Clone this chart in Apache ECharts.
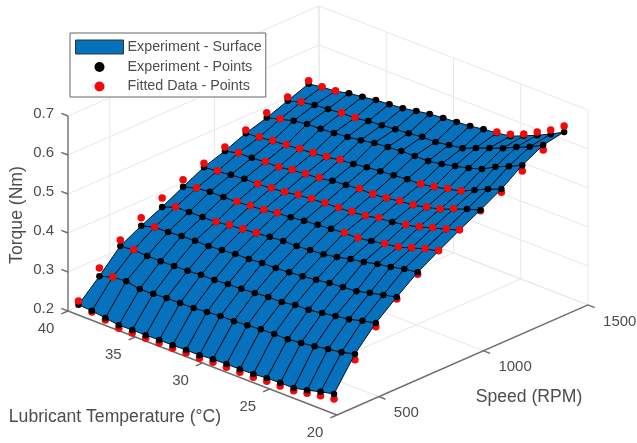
<!DOCTYPE html>
<html>
<head>
<meta charset="utf-8">
<style>
html,body{margin:0;padding:0;background:#fff}
#chart{width:637px;height:443px;filter:blur(0.45px)}
</style>
<script src="https://cdn.jsdelivr.net/npm/echarts@6/dist/echarts.min.js"></script>
</head>
<body>
<div id="chart"></div>
<script>
// Lubricant temperature (deg C), one value per surface column
const temperatures = [40,39,38,37,36,35,34,33,32,31,30,29,28,27,26,25,24,23,22,21];
// Speed (RPM), one value per surface row
const speeds = [350,450,550,650,750,850,950,1050,1150,1250,1350,1450];

const tempTicks = [40,35,30,25,20];
const speedTicks = [500,1000,1500];
const torqueTicks = [0.2,0.3,0.4,0.5,0.6,0.7];

// Experiment torque (Nm) per speed row, columns follow temperatures
const exp350  = [.204,.202,.197,.192,.193,.193,.194,.194,.195,.195,.198,.199,.199,.200,.203,.204,.204,.212,.221,.229];
const exp450  = [.254,.265,.268,.261,.262,.265,.265,.266,.269,.272,.272,.275,.278,.279,.279,.283,.288,.294,.299,.308];
const exp550  = [.308,.311,.309,.309,.310,.311,.314,.314,.317,.318,.321,.324,.324,.330,.331,.336,.342,.347,.356,.364];
const exp650  = [.336,.346,.347,.350,.351,.351,.354,.357,.358,.361,.361,.364,.367,.371,.376,.379,.382,.391,.399,.407];
const exp750  = [.361,.374,.375,.375,.376,.381,.384,.387,.391,.394,.394,.397,.400,.406,.414,.420,.428,.434,.442,.447];
const exp850  = [.389,.399,.403,.403,.404,.407,.410,.415,.418,.422,.425,.428,.431,.431,.437,.443,.448,.459,.470,.478];
const exp950  = [.416,.419,.423,.426,.426,.429,.432,.438,.441,.444,.445,.448,.451,.459,.462,.468,.476,.487,.497,.508];
const exp1050 = [.434,.442,.443,.446,.446,.452,.455,.458,.464,.467,.470,.470,.473,.479,.482,.490,.498,.512,.525,.536];
const exp1150 = [.456,.459,.463,.466,.469,.472,.475,.481,.484,.489,.492,.495,.498,.499,.505,.513,.521,.537,.553,.566];
const exp1250 = [.472,.482,.491,.496,.497,.500,.503,.508,.514,.517,.520,.521,.521,.527,.535,.543,.554,.573,.588,.604];
const exp1350 = [.492,.502,.508,.511,.514,.515,.520,.523,.526,.529,.533,.533,.539,.544,.558,.571,.584,.600,.614,.632];
const exp1450 = [.512,.517,.520,.528,.532,.537,.540,.543,.549,.555,.558,.561,.564,.569,.573,.578,.592,.607,.623,.642];
const experimentRows = [exp350,exp450,exp550,exp650,exp750,exp850,exp950,exp1050,exp1150,exp1250,exp1350,exp1450];

// Fitted torque (Nm) per speed row
const fit350  = [.214,.199,.192,.184,.185,.185,.186,.186,.187,.187,.190,.191,.191,.192,.195,.196,.197,.204,.211,.216];
const fit450  = [.275,.266,.266,.259,.260,.263,.263,.264,.267,.270,.270,.273,.276,.277,.277,.281,.286,.292,.297,.293];
const fit550  = [.323,.312,.307,.307,.308,.309,.312,.312,.315,.316,.319,.322,.322,.328,.329,.334,.340,.345,.354,.354];
const fit650  = [.357,.347,.345,.348,.349,.349,.352,.355,.356,.359,.359,.362,.365,.369,.374,.377,.380,.389,.397,.402];
const fit750  = [.384,.375,.373,.373,.377,.382,.385,.388,.389,.392,.392,.395,.398,.404,.412,.418,.426,.432,.440,.442];
const fit850  = [.407,.400,.401,.401,.405,.408,.411,.416,.416,.420,.423,.426,.432,.432,.435,.444,.449,.460,.471,.479];
const fit950  = [.426,.420,.421,.424,.427,.430,.433,.439,.442,.445,.446,.449,.452,.460,.460,.469,.477,.488,.498,.509];
const fit1050 = [.444,.443,.441,.447,.447,.453,.456,.459,.462,.465,.471,.471,.474,.480,.483,.491,.499,.513,.523,.534];
const fit1150 = [.464,.460,.464,.467,.470,.473,.476,.482,.482,.487,.490,.493,.496,.500,.506,.514,.522,.535,.551,.558];
const fit1250 = [.485,.483,.489,.494,.495,.498,.501,.506,.512,.515,.518,.519,.519,.525,.533,.541,.552,.571,.586,.589];
const fit1350 = [.502,.503,.506,.509,.515,.516,.518,.521,.524,.527,.531,.531,.537,.542,.556,.569,.582,.598,.612,.619];
const fit1450 = [.520,.518,.521,.526,.530,.535,.538,.541,.547,.553,.556,.559,.562,.567,.575,.583,.597,.615,.634,.657];
const fittedRows = [fit350,fit450,fit550,fit650,fit750,fit850,fit950,fit1050,fit1150,fit1250,fit1350,fit1450];

const INK = '#4d4d4d', AXIS = '#6e6e6e', GRID = '#e8e8e8', BLUE = '#0671bd', RED = '#f40808', FONT = '"Liberation Sans", Arial, sans-serif';

// Orthographic view of the (temperature, speed, torque) box onto the plot plane.
const view = {ox:68, oy:311, tx:13.45, ty:5.2, sx:0.2092, sy:-0.0917, zy:-390};
function project(t, s, z){
  const dt = 40 - t, ds = s - 300, dz = z - 0.2;
  return [view.ox + view.tx*dt + view.sx*ds, view.oy + view.ty*dt + view.sy*ds + view.zy*dz];
}

const segs = [];
function seg(kind,a,b){ segs.push({kind, a, b}); }
// back walls and floor
torqueTicks.forEach(z => {
  seg('grid',[40,300,z],[40,1500,z]);
  seg('grid',[40,1500,z],[20,1500,z]);
});
speedTicks.forEach(s => {
  seg('grid',[40,s,.2],[40,s,.7]);
  seg('grid',[40,s,.2],[20,s,.2]);
});
tempTicks.forEach(t => {
  seg('grid',[t,1500,.2],[t,1500,.7]);
  seg('grid',[t,300,.2],[t,1500,.2]);
});
// axes
seg('axis',[40,300,.2],[40,300,.7]);
seg('axis',[40,300,.2],[20,300,.2]);
seg('axis',[20,300,.2],[20,1500,.2]);
torqueTicks.forEach(z => seg('axis',[40,300,z],[40.5,300,z]));
tempTicks.forEach(t => seg('axis',[t,300,.2],[t,268,.2]));
speedTicks.forEach(s => seg('axis',[20,s,.2],[19.5,s,.2]));

const texts = [];
torqueTicks.forEach(z => { const [x,y]=project(40,300,z); texts.push({x:x-14,y:y-2,text:z.toFixed(1),align:'right',size:15}); });
tempTicks.forEach(t => { const [x,y]=project(t,300,.2); texts.push({x:x-22,y:y+18,text:String(t),align:'center',size:15}); });
speedTicks.forEach(s => { const [x,y]=project(20,s,.2); texts.push({x:x+15,y:y+16.5,text:String(s),align:'left',size:15}); });
texts.push({x:115,y:417,text:'Lubricant Temperature (°C)',align:'center',size:17.6});
texts.push({x:529,y:397,text:'Speed (RPM)',align:'center',size:17.6});
texts.push({x:17,y:215,text:'Torque (Nm)',align:'center',rotation:Math.PI/2,size:17.6});

const cells = [];
for (let i=0;i<speeds.length-1;i++) for (let j=0;j<temperatures.length-1;j++) cells.push([i,j]);

const vertex = (i,j) => project(temperatures[j], speeds[i], experimentRows[i][j]);

const expPts = [], fitLow = [], fitHigh = [];
speeds.forEach((s,i) => temperatures.forEach((t,j) => {
  expPts.push(project(t,s,experimentRows[i][j]));
  const p = project(t,s,fittedRows[i][j]);
  (fittedRows[i][j] < experimentRows[i][j] ? fitLow : fitHigh).push(p);
}));

const dot = (name,data,color,size,z) => ({
  type:'scatter', name, data, z, symbol:'circle', symbolSize:size, silent:true,
  itemStyle:{color, opacity:1}, clip:false
});

const chart = echarts.init(document.getElementById('chart'), null, {renderer:'canvas'});
chart.setOption({
  animation:false,
  backgroundColor:'#fff',
  tooltip:{show:false},
  grid:{left:0,right:0,top:0,bottom:0},
  xAxis:{type:'value',min:0,max:637,show:false},
  yAxis:{type:'value',min:0,max:443,inverse:true,show:false},
  legend:{
    left:70, top:33, orient:'vertical', padding:[6.5,4,3.5,5], itemGap:5.5,
    itemWidth:48, itemHeight:14, backgroundColor:'#fff', borderColor:'#666', borderWidth:1,
    selectedMode:false,
    textStyle:{fontFamily:FONT,fontSize:14.3,color:INK,padding:[0,0,0,-1]},
    data:[
      {name:'Experiment - Surface', icon:'rect', itemStyle:{color:BLUE,borderColor:'#333',borderWidth:1}},
      {name:'Experiment - Points', icon:'path://M0,0L0,0M14,14L14,14M12,7a5,5 0 1 1 -10,0a5,5 0 1 1 10,0Z', itemStyle:{color:'#000'}},
      {name:'Fitted Data - Points', icon:'path://M0,0L0,0M14,14L14,14M12,7a5,5 0 1 1 -10,0a5,5 0 1 1 10,0Z', itemStyle:{color:RED}}
    ]
  },
  series:[
    {
      type:'custom', name:'box', z:1, silent:true, clip:false,
      data:segs.map((_,k)=>[k]),
      renderItem(params,api){
        const d = segs[api.value(0)];
        const a = api.coord(project(...d.a)), b = api.coord(project(...d.b));
        return {type:'line',shape:{x1:a[0],y1:a[1],x2:b[0],y2:b[1]},
          style:{stroke:d.kind==='axis'?AXIS:GRID,lineWidth:d.kind==='axis'?1.4:1,fill:null}};
      }
    },
    dot('Fitted Data - Points',fitLow,RED,7.5,2),
    {
      type:'custom', name:'Experiment - Surface', z:3, silent:true, clip:false,
      itemStyle:{color:BLUE},
      data:cells,
      renderItem(params,api){
        const i=api.value(0), j=api.value(1);
        const pts=[vertex(i,j),vertex(i,j+1),vertex(i+1,j+1),vertex(i+1,j)].map(p=>api.coord(p));
        return {type:'polygon',shape:{points:pts},style:{fill:BLUE,stroke:'#04121e',lineWidth:1}};
      }
    },
    dot('Experiment - Points',expPts,'#000',6.5,4),
    dot('Fitted Data - Points',fitHigh,RED,7.5,5),
    {
      type:'custom', name:'labels', z:6, silent:true, clip:false,
      data:texts.map((_,k)=>[k]),
      renderItem(params,api){
        const d=texts[api.value(0)];
        const c=api.coord([d.x,d.y]);
        return {type:'text',x:c[0],y:c[1],rotation:d.rotation||0,
          style:{text:d.text,textAlign:d.align,textVerticalAlign:'middle',font:d.size+'px '+FONT,fill:INK}};
      }
    }
  ]
});
</script>
</body>
</html>
